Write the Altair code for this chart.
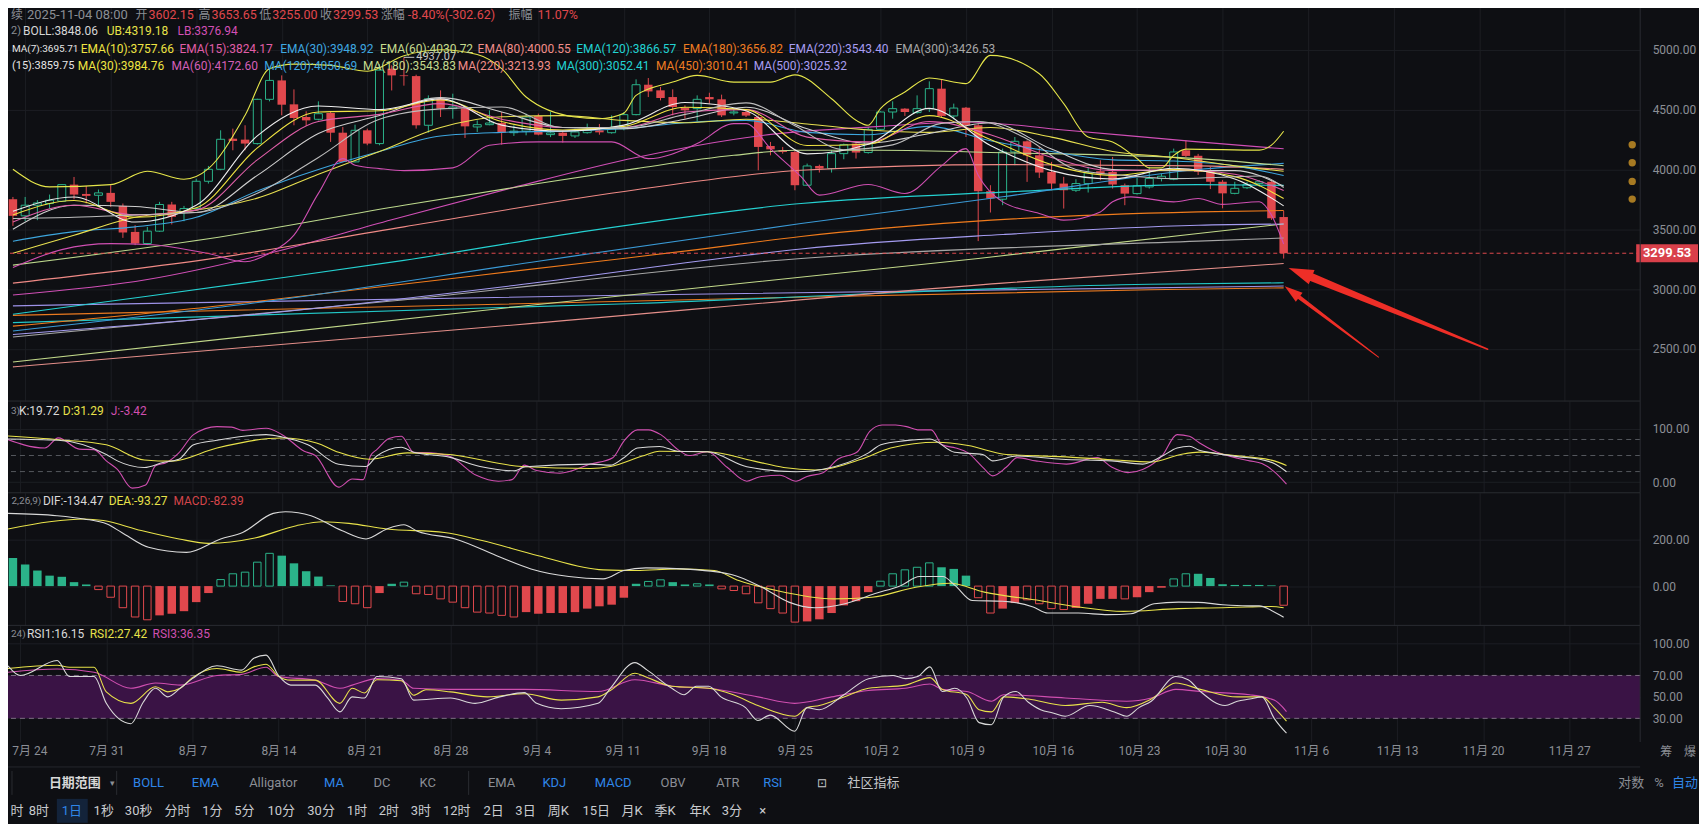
import altair as alt
import pandas as pd

# ------------------------------------------------------------------ data
# day 0 = 2025-07-24 ; last candle day 103 = 2025-11-04
days = list(range(-1, 104))
opens = [3751,3612,3701,3715,3734,3873,3795,3784,3804,3695,
         3478,3381,3484,3707,3645,3673,3901,4001,4257,4249,
         4216,4586,4744,4544,4438,4419,4472,4307,4063,4327,
         4216,4842,4786,4780,4369,4591,4508,4510,4355,4374,
         4388,4307,4320,4446,4291,4307,4280,4307,4327,4307,
         4341,4458,4708,4661,4605,4513,4508,4605,4586,4472,
         4480,4438,4196,4160,4146,3868,4029,4007,4132,4216,
         4141,4335,4480,4508,4475,4508,4675,4447,4516,4369,
         3818,3751,4146,4235,4118,3979,3882,3826,3882,3985,
         3979,3868,3798,3854,3924,3918,4160,4114,3980,3897,
         3800,3847,3883,3897,3602.15]
highs = [3770,3770,3743,3790,3875,3937,3862,3832,3868,3715,
         3534,3520,3729,3729,3695,3923,4029,4327,4341,4369,
         4591,4842,4786,4669,4486,4569,4480,4355,4374,4341,
         4880,4870,4937.07,4792,4619,4661,4633,4515,4410,4494,
         4480,4369,4466,4466,4480,4327,4341,4383,4380,4452,
         4480,4753,4764,4689,4669,4536,4619,4641,4625,4508,
         4494,4452,4230,4188,4160,4049,4040,4160,4216,4235,
         4355,4486,4569,4512,4619,4736,4753,4550,4522,4383,
         3868,4174,4271,4243,4188,4063,3938,3918,4021,4077,
         4104,3882,3929,4021,3965,4174,4243,4130,4022,3911,
         3897,3897,3911,3911,3653.65]
lows = [3528,3567,3576,3673,3730,3751,3715,3687,3687,3428,
        3367,3367,3478,3540,3567,3667,3882,3993,4160,4160,
        4207,4569,4452,4369,4363,4410,4230,4060,4060,4202,
        4202,4660,4700,4341,4307,4438,4424,4263,4313,4369,
        4207,4280,4285,4285,4270,4224,4263,4299,4290,4299,
        4327,4452,4605,4577,4452,4424,4402,4550,4438,4452,
        4438,3993,4118,4132,3826,3862,3974,3974,4085,4091,
        4132,4327,4424,4447,4466,4480,4438,4419,4271,3401,
        3640,3701,4035,3896,3929,3826,3673,3812,3807,3910,
        3840,3701,3790,3840,3900,3910,4104,3953,3836,3675,
        3792,3836,3855,3578,3255.00]
closes = [3612,3701,3720,3743,3873,3790,3779,3804,3729,3473,
          3381,3484,3707,3604,3673,3901,4001,4252,4238,4216,
          4586,4744,4541,4430,4410,4466,4307,4063,4327,4216,
          4830,4786,4780,4369,4591,4508,4522,4360,4374,4388,
          4307,4320,4438,4291,4305,4280,4313,4327,4310,4341,
          4458,4708,4652,4597,4522,4494,4586,4586,4452,4480,
          4450,4188,4168,4146,3868,4029,4007,4132,4207,4141,
          4335,4480,4508,4480,4508,4675,4447,4513,4369,3818,
          3757,4146,4235,4118,3974,3882,3826,3882,3971,3965,
          3874,3798,3862,3924,3943,4146,4113,3980,3897,3800,
          3842,3875,3897,3592,3299.53]

# overlay lines (day, value)
boll_ub = [(-1,4001),(2,3854),(7,3873),(10,3985),(13,3918),(15,4007),(18,4452),(20,4842),(22,4880),(25,4870),
           (28,4820),(31,4950),(34,5000),(37,4960),(39,4842),(41,4605),(45,4438),(47,4424),(49,4470),(50,4619),
           (53,4730),(55,4786),(58,4730),(61,4730),(63,4790),(66,4591),(68,4411),(69,4369),(70,4508),(72,4647),
           (74,4764),(77,4717),(79,4953),(83,4800),(85,4550),(87,4271),(89,4230),(91,4091),(92,4013),(93,4013),
           (94,4118),(95,4170),(101,4161),(102,4203),(103,4319.18)]
boll_lb = [(-1,3180),(3,3330),(7,3380),(10,3373),(15,3297),(18,3228),(20,3300),(22,3451),(24,3800),(26,4090),
           (27,4035),(29,4007),(31,3990),(35,4013),(38,4202),(42,4230),(48,4230),(51,4090),(55,4216),(58,4383),
           (59,4383),(61,4174),(63.5,3940),(65,3785),(69,3874),(72,3799),(75,4030),(77,4174),(78,3952),(80,3729),
           (83,3632),(85,3576),(88,3645),(89,3729),(90.5,3771),(94,3729),(96,3757),(98,3708),(101,3730),(102,3619),
           (103,3376.94)]
boll_mid = [(-1,3590),(4,3600),(9,3620),(14,3640),(19,3800),(24,4100),(29,4420),(34,4506),(39,4522),(44,4350),
            (49,4350),(54,4460),(59,4556),(63,4365),(67,4165),(71,4205),(75,4385),(78,4400),(82,4255),(86,4000),
            (90,3950),(94,3923),(98,3935),(101,3945),(103,3848.06)]
ema7 = [(-1,3650),(4,3770),(9,3560),(14,3700),(19,4280),(24,4530),(29,4500),(34,4590),(39,4370),(44,4320),(49,4370),
        (54,4560),(59,4490),(64,4130),(69,4210),(74,4510),(79,4200),(84,3990),(89,3920),(94,4010),(99,3920),(103,3695.71)]
ema10 = [(-1,3620),(4,3740),(9,3600),(14,3680),(19,4180),(24,4480),(29,4490),(34,4580),(39,4400),(44,4330),(49,4360),
         (54,4520),(59,4500),(64,4200),(69,4210),(74,4450),(79,4250),(84,4040),(89,3950),(94,4000),(99,3940),(103,3757.66)]
ema15 = [(-1,3560),(4,3700),(9,3620),(14,3660),(19,4080),(24,4400),(29,4460),(34,4550),(39,4420),(44,4350),(49,4350),
         (54,4480),(59,4500),(64,4270),(69,4230),(74,4400),(79,4290),(84,4100),(89,3990),(94,4000),(99,3960),(103,3824.17)]
ma15 = [(-1,3500),(4,3700),(9,3690),(14,3640),(19,3950),(24,4300),(29,4450),(34,4600),(39,4480),(44,4350),(49,4340),
        (54,4420),(59,4520),(64,4340),(69,4220),(74,4300),(79,4390),(84,4170),(89,4000),(94,3990),(99,3990),(103,3859.75)]
ma30 = [(-1,3300),(4,3450),(9,3600),(14,3660),(19,3760),(24,3960),(29,4150),(34,4350),(39,4440),(44,4450),(49,4410),
        (54,4390),(59,4420),(64,4380),(69,4330),(74,4310),(79,4350),(84,4270),(89,4150),(94,4100),(99,4030),(103,3984.76)]
ema30 = [(-1,3400),(4,3480),(9,3520),(14,3600),(19,3820),(24,4000),(29,4150),(34,4280),(39,4310),(44,4320),(49,4340),
         (54,4390),(59,4410),(64,4310),(69,4290),(74,4360),(79,4240),(84,4150),(89,4080),(94,4070),(99,4030),(103,3948.92)]
ema60 = [(-1,3200),(15,3420),(31,3701),(42,3882),(50,4007),(58,4118),(63,4160),(70,4160),(80,4140),(96,4090),(103,4030.72)]
ema80 = [(-1,3050),(15,3250),(31,3520),(50,3830),(63.5,3993),(80,4040),(96,4030),(103,4000.55)]
ma60 = [(-1,2950),(10,3080),(20,3300),(30,3580),(40,3850),(50,4100),(60,4280),(70,4360),(77,4397),(85,4330),(96,4230),(103,4172.60)]
ma120 = [(-1,2650),(20,2900),(42,3233),(63.5,3548),(80,3771),(96,4000),(103,4050.69)]
ema120 = [(-1,2790),(10,2940),(20,3080),(31,3240),(45,3470),(63.5,3715),(80,3810),(96,3873),(103,3866.57)]
ema180 = [(-1,2690),(15,2850),(30,3030),(47,3233),(55,3330),(63.5,3440),(77,3562),(96,3645),(103,3656.82)]
ema220 = [(-1,2620),(20,2800),(40,3030),(58,3270),(63.5,3335),(80,3456),(96,3534),(103,3543.40)]
ema300 = [(-1,2600),(30,2900),(63.5,3256),(96,3401),(103,3426.53)]
ma180 = [(-1,2390),(40,2850),(78,3256),(96,3465),(103,3543.83)]
ma220 = [(-1,2350),(40,2700),(80,3050),(103,3213.93)]
ma300 = [(-1,2720),(50,2880),(92,3040),(103,3052.41)]
ma450 = [(-1,2780),(50,2900),(92,2994),(103,3010.41)]
ma500 = [(-1,2860),(50,2950),(92,3010),(103,3025.32)]

kdj_k = [(-1.4,81),(3.1,78.5),(7,52),(7.9,40),(10.1,27.6),(11.6,36.8),(12.9,43),(14.1,70),(16,78.5),(20,89),(21.3,84.6),
         (23.4,70),(25.9,33.7),(28.1,29.4),(29,49),(31,65.6),(32,56),(34.9,47),(37.4,29.4),(40.2,21.5),(41.1,29),(46.4,34),
         (48,32),(49.1,46),(50.2,64),(52,67),(53.5,58),(55.9,57),(59.1,29),(63.1,19.6),(65.3,24.5),(69,55),(70,70),(72,77.8),
         (74,81),(76,56),(78.3,52),(79.1,40),(81.1,49),(84.7,43),(88.8,40),(91.3,34),(92.9,49),(94.1,64),(95.1,67.4),(95.9,60),
         (97,55),(99,48),(101,42),(102,35),(103,19.72)]
kdj_d = [(-1.4,87),(3.1,79.6),(7,70),(10.1,41.7),(12.3,39.5),(16,64),(21.3,82.7),(24.1,73.5),(25.9,56),(28.4,43),(31.5,55),
         (34.9,52),(35.8,49),(40.8,29.4),(46.4,25.7),(48,29.4),(50.6,49),(52,58),(55.9,57),(59.7,39.5),(62.1,27.6),(64.7,23),
         (68.4,43),(70.8,64),(74.6,74.8),(77.1,68.6),(80.2,52),(84.6,48),(88.8,42),(92,38),(94.4,52),(95.9,56.4),(98,52),
         (100,47),(102,40),(103,31.29)]
kdj_j = [(-1.4,83),(2,64),(3.1,83),(4.8,62),(6,61),(7,40),(7.9,24),(9.1,-11),(10.2,-5),(11,31),(11.9,37),(12.9,55),(14.1,89),
         (16,104),(17.2,103),(18.1,97),(20,101),(21.3,89),(23.1,58),(24,50),(25.9,-9),(27,6),(27.9,5),(28.5,50),(29,61),(30,82),
         (31,86),(32,56),(33.4,55),(34.9,49),(37.1,13),(38.9,2),(40,5),(41,32),(42,22),(43.9,17),(46.4,34),(48.2,46),(49.1,77),
         (50.2,98),(51.1,98),(52.1,89),(53.5,61),(54.4,50),(55.9,57),(57.5,28),(59.1,2),(60.1,10),(61.8,13),(63.1,2),(64,11),
         (65.3,18),(66.5,43),(68.1,57),(69.1,95),(70.1,107),(71.2,107),(72.1,104),(73,98),(74.1,98),(75,70),(76.1,64),(77.1,55),
         (78.3,28),(79.1,12),(80.2,28),(81.1,46),(82.6,40),(85.1,34),(87.6,46),(88.8,28),(90.1,18),(91.3,24),(92.9,50),(94.1,89),
         (95.1,86),(95.9,74),(97,60),(99,45),(100,40),(101,35),(102,20),(103,-3.42)]

macd_hist = [121,93,67,45,40,17,7,-15,-48,-93,
             -133,-145,-126,-119,-108,-69,-30,28,53,60,
             103,141,131,98,64,41,3,-66,-76,-93,
             -30,10,17,-33,-36,-55,-69,-93,-112,-116,
             -126,-133,-112,-119,-116,-116,-112,-97,-87,-80,
             -50,10,20,27,17,7,10,7,-12,-19,
             -33,-72,-97,-116,-155,-152,-143,-116,-83,-65,
             -26,21,53,70,81,100,81,74,45,-50,
             -116,-97,-73,-59,-76,-97,-101,-94,-76,-55,
             -55,-55,-48,-26,-7,31,53,53,35,8,
             5,5,5,3,-82.39]
macd_style = "fffffffhhh" "hhfffffhhh" "hhfffffhhh" "ffhhhhhhhh" "hhffffffff" "ffhhffhfhh" \
             "hhhhhfffff" "fhhhhhfffh" "hffhhhhfff" "fhfffhhfff" "ffffh"
macd_dif = [(-1.4,313),(2.6,303),(4.8,289),(6.7,267),(7.9,231),(10.1,167),(13.2,145),(16,203),(17.8,231),(20.3,313),
            (21.3,320),(23.4,303),(25.9,239),(27.9,203),(29.6,246),(31,264),(32.1,236),(35.2,203),(38.9,124),(41.4,74),
            (44.5,41),(47.3,31),(49,67),(50.8,78.5),(53.8,74),(57.8,50),(60.3,-5),(62.5,-69),(64.6,-93),(67.1,-76),
            (69.5,-33),(71.7,3),(73.2,41),(75.1,41),(76.1,3),(77.5,-62),(80,-65),(82.5,-90),(83.7,-116),(86.2,-116),
            (88.6,-123),(90.5,-119),(92.4,-76),(94.4,-69),(96,-70),(98,-80),(100,-85),(101,-85),(102,-105),(103,-134.47)]
macd_dea = [(-1.4,246),(2,277),(4.8,289),(6.4,282),(9.5,239),(12.6,203),(15,184),(18.8,207),(22.2,260),(24.4,277),
            (26.5,270),(29.6,246),(34.3,231),(37.4,196),(42,131),(47.3,70),(50,67),(53.3,74),(56.4,67),(58.4,24),
            (61.5,-19),(66.2,-55),(69.3,-48),(72.9,-5),(75.7,12),(78.5,-26),(83.1,-63),(86.2,-90),(89.9,-109),(94.4,-97),
            (96,-95),(98,-93),(100,-90),(102,-88),(103,-93.27)]

rsi1 = [(-1,79),(0,70),(3,84),(4,69),(6,69),(7,44),(9,25),(10,45),(11,58),(12,50),(13,58),(14,67),(16,79),(18,75),(19,86),
        (20,89),(21,70),(22,61),(24,61),(25,49),(26,36),(27,50),(28,49),(29,69),(31,67),(32,47),(35,49),(37,44),(39,50),
        (41,54),(42,44),(44,39),(47,44),(48,58),(50,82),(51,75),(53,58),(54,52),(55,60),(56,60),(57,50),(59,40),(60,28),
        (61,33),(63,18),(64,40),(65,38),(67,52),(69,67),(71,70),(72,67),(73,69),(74,78),(75,55),(76,58),(77,49),(78,26),
        (79,24),(80,50),(81,55),(82,45),(83,38),(84,35),(85,32),(87,42),(89,36),(90,32),(91,40),(92,46),(94,69),(95,66),
        (96,55),(98,42),(99,46),(100,48),(101,50),(102,30),(103,16.15)]
rsi2 = [(-1,76.5),(3,79.5),(4,77.7),(6,77.7),(7,54.7),(9,44),(11,59.4),(12,54.7),(13,58),(14,68),(16,76.5),(18,73),(19,78),
        (20,80.5),(21,69.3),(22,65.6),(24,65.6),(26,44),(27,58),(28,53.7),(29,66),(31,65),(32,51.6),(33,56.7),(35,54.7),
        (38,50),(41,53),(44,47),(47,50),(48,56),(50,72),(51,68),(53,60),(56,58),(58,52),(60,42),(63,32),(64,40),(65,42),
        (67,50),(69,58),(72,61),(74,68),(75,57),(77,52),(78,38),(79,36),(80,50),(82,48),(85,42),(88,45),(90,40),(92,48),
        (94,63),(96,57),(99,50),(101,50),(102,40),(103,27.42)]
rsi3 = [(-1,73),(3,76),(6,73),(9,58),(11,63),(13,61),(16,70),(18,71),(20,77.7),(21,69),(24,65.6),(26,58),(27,61),(29,67),
        (31,65.6),(32,58),(35,57),(41,57),(47,55),(50,66),(53,60),(56,58),(60,50),(63,44),(66,50),(69,56),(72,58),(74,62),
        (75,57),(77,55),(79,46),(80,52),(85,49),(90,46),(92,49),(94,57),(96,55),(100,52),(102,47),(103,36.35)]

week_days = list(range(0, 127, 7))
week_labels = ["7月 24", "7月 31", "8月 7", "8月 14", "8月 21", "8月 28", "9月 4", "9月 11", "9月 18", "9月 25",
               "10月 2", "10月 9", "10月 16", "10月 23", "10月 30", "11月 6", "11月 13", "11月 20", "11月 27"]
price_ticks = [2500, 3000, 3500, 4000, 4500, 5000]
kdj_ticks = [0, 100]
macd_ticks = [0, 200]
rsi_ticks = [30, 50, 70, 100]
last_price = 3299.53
max_high_day, max_high = 31, 4937.07
side_dots = [4206, 4056, 3900, 3752]

# ------------------------------------------------------------------ style
BG = "#0e0f13"
GRID = "#1c1e23"
SEP = "#2a2c31"
TXT = "#8b8e95"
RED = "#e0484d"
GREEN = "#2bb38a"
WHITE = "#d9d9d9"
YEL = "#e8e24a"
MAG = "#d24fb5"
FONT = "Roboto, 'Noto Sans CJK SC', sans-serif"
W = 1642
XDOM = [-1.403, 131.77]
ONE = pd.DataFrame({"a": [0]})

label_expr = "[" + ",".join("'%s'" % s for s in week_labels) + "][indexof([" + \
             ",".join(str(v) for v in week_days) + "], datum.value)]"


def xax(labels=False):
    return alt.Axis(values=week_days, grid=True, gridColor=GRID, gridWidth=1, labels=labels, ticks=False,
                    domain=False, title=None, labelExpr=label_expr, labelColor=TXT, labelFont=FONT,
                    labelFontSize=12, labelPadding=4,
                    labelAlign={"expr": "datum.value == 0 ? 'left' : 'center'"},
                    labelOffset={"expr": "datum.value == 0 ? -8.5 : 0"})


def X(field, labels=False):
    return alt.X(field + ":Q", scale=alt.Scale(domain=XDOM, nice=False, zero=False), axis=xax(labels))


def make_y(domain, ticks):
    sc = alt.Scale(domain=domain, nice=False, zero=False)
    ax = alt.Axis(values=ticks, format=".2f", orient="right", grid=True, gridColor=GRID, tickSize=0,
                  domain=False, labelPadding=12, labelColor=TXT, labelFont=FONT, labelFontSize=12, title=None)

    def Y(field):
        return alt.Y(field + ":Q", scale=sc, axis=ax)

    def YD(v):
        return alt.YDatum(v, scale=sc, axis=ax)
    return Y, YD


def T(text, x, y, color, size=12, weight="normal", align="left"):
    return alt.Chart(ONE).mark_text(text=text, align=align, baseline="middle", font=FONT, fontSize=size,
                                    fontWeight=weight, color=color).encode(x=alt.value(x), y=alt.value(y))


def hline(y, color=SEP):
    return alt.Chart(ONE).mark_rule(color=color, strokeWidth=1).encode(y=alt.value(y))


def vline(x, y1, y2, color=SEP):
    return alt.Chart(ONE).mark_rule(color=color, strokeWidth=1).encode(
        x=alt.value(x), y=alt.value(y1), y2=alt.value(y2))


def lines_df(spec):
    rows = []
    for name, (pts, col) in spec.items():
        for d, v in pts:
            rows.append({"name": name, "d": d, "v": v, "col": col})
    return pd.DataFrame(rows)


def line_layer(spec, Y, width=1.1):
    return alt.Chart(lines_df(spec)).mark_line(strokeWidth=width, interpolate="monotone").encode(
        x=X("d"), y=Y("v"), detail="name:N", color=alt.Color("col:N", scale=None, legend=None))


# ------------------------------------------------------------------ main panel
YM, YMD = make_y([2064.2, 5397.5], price_ticks)
candles = pd.DataFrame({"d": days, "o": opens, "h": highs, "l": lows, "c": closes})

main_lines = {
    "ma500": (ma500, "#9d92e8"), "ma450": (ma450, "#ea7a20"), "ma300": (ma300, "#22c7c7"),
    "ma220": (ma220, "#e58f8a"), "ma180": (ma180, "#c2d98a"), "ema300": (ema300, "#a6a6a6"),
    "ema220": (ema220, "#a49bf0"), "ema180": (ema180, "#f07b1c"), "ema120": (ema120, "#25d1d1"),
    "ma120": (ma120, "#3a9ad6"), "ma60": (ma60, "#d04fb6"), "ema80": (ema80, "#f08a86"),
    "ema60": (ema60, "#bcd88c"), "ema30": (ema30, "#3da6de"), "ma30": (ma30, "#e8e050"),
    "ma15": (ma15, "#cfcfcf"), "ema15": (ema15, "#e05ea8"), "ema10": (ema10, "#f0e442"),
    "ema7": (ema7, "#eeeeee"), "boll_mid": (boll_mid, "#bdbdbd"), "boll_ub": (boll_ub, "#e6e64a"),
    "boll_lb": (boll_lb, "#cf4fb2"),
}

wicks = alt.Chart(candles).mark_rule(strokeWidth=1).encode(
    x=X("d"), y=YM("l"), y2="h",
    color=alt.condition("datum.c >= datum.o", alt.value(GREEN), alt.value(RED)))
down = alt.Chart(candles).transform_filter("datum.c < datum.o").mark_bar(size=8.5, color=RED).encode(
    x=X("d"), y=YM("o"), y2="c")
up = alt.Chart(candles).transform_filter("datum.c >= datum.o").mark_bar(
    size=8, fill=BG, stroke=GREEN, strokeWidth=1).encode(x=X("d"), y=YM("o"), y2="c")

last_rule = alt.Chart(ONE).mark_rule(color=RED, strokeDash=[4, 3], strokeWidth=1).encode(y=YMD(last_price))
price_box = alt.Chart(ONE).mark_rect(color="#d9404a").encode(
    x=alt.value(1638), x2=alt.value(1700), y=YMD(last_price + 76), y2=alt.datum(last_price - 76))
price_txt = alt.Chart(ONE).mark_text(text="%.2f" % last_price, font=FONT, fontSize=13, fontWeight="bold",
                                     color="#ffffff", align="center", baseline="middle").encode(
    x=alt.value(1669), y=YMD(last_price))

mx = pd.DataFrame({"d": [max_high_day], "d2": [max_high_day + 0.85], "v": [max_high]})
max_rule = alt.Chart(mx).mark_rule(color="#c8c8c8").encode(x=X("d"), x2="d2", y=YM("v"))
max_txt = alt.Chart(mx).mark_text(text="%.2f" % max_high, align="left", baseline="middle", dx=2, font=FONT,
                                  fontSize=11, color="#c8c8c8").encode(x=X("d2"), y=YM("v"))

dots = alt.Chart(pd.DataFrame({"v": side_dots})).mark_circle(size=55, color="#a77a22", opacity=1).encode(
    x=alt.value(1634), y=YM("v"))

arrow_shaft = pd.DataFrame({"a": [1, 1, 2, 2], "d": [119.7, 105.2, 110.76, 104.26],
                            "v": [2497.5, 3103.3, 2430.8, 2932.5], "w": [1.5, 8, 1, 4]})
arrows = alt.Chart(arrow_shaft).mark_trail(color="#ee2e27").encode(
    x=X("d"), y=YM("v"), size=alt.Size("w:Q", scale=None, legend=None), detail="a:N")
head_shape = "M0,-1L0.62,1L-0.62,1Z"
head1 = alt.Chart(pd.DataFrame({"d": [104.35], "v": [3137.9]})).mark_point(
    shape=head_shape, size=620, angle=292, filled=True, color="#ee2e27", opacity=1).encode(x=X("d"), y=YM("v"))
head2 = alt.Chart(pd.DataFrame({"d": [103.68], "v": [2977.5]})).mark_point(
    shape=head_shape, size=330, angle=307, filled=True, color="#ee2e27", opacity=1).encode(x=X("d"), y=YM("v"))

L1 = 13.2
legend_main = [
    T("续", 8, L1, TXT, size=12), T("2025-11-04 08:00", 24, L1, TXT, size=13),
    T("开", 133, L1, TXT, size=12), T("3602.15", 146, L1, RED, size=12.5),
    T("高", 196, L1, TXT, size=12), T("3653.65", 209, L1, RED, size=12.5),
    T("低", 257, L1, TXT, size=12), T("3255.00", 270, L1, RED, size=12.5),
    T("收", 318, L1, TXT, size=12), T("3299.53", 331, L1, RED, size=12.5),
    T("涨幅", 379, L1, TXT, size=12), T("-8.40%(-302.62)", 406, L1, RED, size=12.5),
    T("振幅", 507, L1, TXT, size=12), T("11.07%", 536, L1, RED, size=12.5),
    T("2)", 8, 29.2, TXT, size=11), T("BOLL:3848.06", 20, 29.2, "#d6d6d6"), T("UB:4319.18", 104, 29.2, YEL),
    T("LB:3376.94", 175, 29.2, MAG),
    T("MA(7):3695.71", 9, 46.7, "#e6e6e6", size=10), T("EMA(10):3757.66", 78, 46.7, "#f0e442"),
    T("EMA(15):3824.17", 177, 46.7, "#e05ea8"), T("EMA(30):3948.92", 278, 46.7, "#3fa8e0"),
    T("EMA(60):4030.72", 378, 46.7, "#c5dc8f"), T("EMA(80):4000.55", 476, 46.7, "#f28e8a"),
    T("EMA(120):3866.57", 575, 46.7, "#22d3d3"), T("EMA(180):3656.82", 682, 46.7, "#f07d22"),
    T("EMA(220):3543.40", 788, 46.7, "#a89df2"), T("EMA(300):3426.53", 895, 46.7, "#a8a8a8"),
    T("(15):3859.75", 9, 64.2, "#e6e6e6", size=11), T("MA(30):3984.76", 75, 64.2, "#f0e442"),
    T("MA(60):4172.60", 169, 64.2, "#d45fb8"), T("MA(120):4050.69", 262, 64.2, "#3fa8e0"),
    T("MA(180):3543.83", 361, 64.2, "#c5dc8f"), T("MA(220):3213.93", 456, 64.2, "#f28e8a"),
    T("MA(300):3052.41", 555, 64.2, "#22d3d3"), T("MA(450):3010.41", 655, 64.2, "#f07d22"),
    T("MA(500):3025.32", 753, 64.2, "#a89df2"),
]

main = alt.layer(
    wicks, down, up, line_layer(main_lines, YM), last_rule, max_rule, max_txt, dots,
    arrows, head1, head2, price_box, price_txt, vline(W, 0, 400), *legend_main
).properties(width=W, height=400)

# ------------------------------------------------------------------ KDJ
YK, YKD = make_y([-19.6, 151.8], kdj_ticks)
kdj_dash = alt.Chart(pd.DataFrame({"v": [80, 50, 20]})).mark_rule(
    color="#55585e", strokeDash=[5, 4], strokeWidth=1).encode(y=YK("v"))
kdj = alt.layer(
    kdj_dash,
    line_layer({"j": (kdj_j, "#d04fb0"), "d": (kdj_d, YEL), "k": (kdj_k, WHITE)}, YK, 1.1),
    hline(0), vline(W, 0, 92),
    T("3)", 8, 10, TXT, size=10), T("K:19.72", 16, 10, WHITE), T("D:31.29", 60, 10, YEL),
    T("J:-3.42", 108, 10, "#d04fb0"),
).properties(width=W, height=92)

# ------------------------------------------------------------------ MACD
YC, YCD = make_y([-169.1, 401.7], macd_ticks)
hist = pd.DataFrame({"d": days, "m": macd_hist, "s": list(macd_style)})
hf_pos = alt.Chart(hist).transform_filter("datum.s == 'f' && datum.m >= 0").mark_bar(size=8.5, color=GREEN).encode(
    x=X("d"), y=YC("m"), y2=alt.datum(0))
hf_neg = alt.Chart(hist).transform_filter("datum.s == 'f' && datum.m < 0").mark_bar(size=8.5, color=RED).encode(
    x=X("d"), y=YC("m"), y2=alt.datum(0))
hh_pos = alt.Chart(hist).transform_filter("datum.s == 'h' && datum.m >= 0").mark_bar(
    size=7.5, fill=BG, stroke=GREEN, strokeWidth=1).encode(x=X("d"), y=YC("m"), y2=alt.datum(0))
hh_neg = alt.Chart(hist).transform_filter("datum.s == 'h' && datum.m < 0").mark_bar(
    size=7.5, fill=BG, stroke=RED, strokeWidth=1).encode(x=X("d"), y=YC("m"), y2=alt.datum(0))
macd = alt.layer(
    hf_pos, hf_neg, hh_pos, hh_neg,
    line_layer({"dea": (macd_dea, YEL), "dif": (macd_dif, WHITE)}, YC, 1.1),
    hline(0), vline(W, 0, 133),
    T("2,26,9)", 8.5, 8, TXT, size=10), T("DIF:-134.47", 40, 8, WHITE), T("DEA:-93.27", 106, 8, YEL),
    T("MACD:-82.39", 171, 8, "#d4454a"),
).properties(width=W, height=133)

# ------------------------------------------------------------------ RSI
YR, YRD = make_y([7.9, 116.7], rsi_ticks)
band = alt.Chart(ONE).mark_rect(color="#3a1345").encode(
    x=alt.value(0), x2=alt.value(W), y=YRD(70), y2=alt.datum(30))
rsi_dash = alt.Chart(pd.DataFrame({"v": [70, 30]})).mark_rule(
    color="#7d6d84", strokeDash=[5, 4], strokeWidth=1).encode(y=YR("v"))
rsi_x = alt.Chart(pd.DataFrame({"d": week_days})).mark_rule(opacity=0).encode(x=X("d", labels=True))
rsi = alt.layer(
    band, rsi_dash, rsi_x,
    line_layer({"r3": (rsi3, "#d04fb0"), "r2": (rsi2, YEL), "r1": (rsi1, WHITE)}, YR, 1.1),
    hline(0), vline(W, 0, 117),
    T("24)", 8, 9, TXT, size=10), T("RSI1:16.15", 24, 9, WHITE), T("RSI2:27.42", 87, 9, YEL),
    T("RSI3:36.35", 150, 9, "#d04fb0"),
).properties(width=W, height=117)

# ------------------------------------------------------------------ toolbar
BLUE = "#2f86e8"
LG = "#c9cbcf"
row1 = [("日期范围", 72, "#d8d8d8", "bold"), ("BOLL", 146, BLUE, "normal"), ("EMA", 203, BLUE, "normal"),
        ("Alligator", 271, TXT, "normal"), ("MA", 332, BLUE, "normal"), ("DC", 380, TXT, "normal"),
        ("KC", 426, TXT, "normal"), ("EMA", 500, TXT, "normal"), ("KDJ", 553, BLUE, "normal"),
        ("MACD", 612, BLUE, "normal"), ("OBV", 672, TXT, "normal"), ("ATR", 727, TXT, "normal"),
        ("RSI", 772, BLUE, "normal"), ("社区指标", 873, "#c4c6ca", "normal"), ("对数", 1633, TXT, "normal"),
        ("%", 1661, TXT, "normal"), ("自动", 1687, BLUE, "normal")]
row2 = [("时", 14), ("8时", 36), ("1日", 69), ("1秒", 101), ("30秒", 136), ("分时", 175), ("1分", 210), ("5分", 242),
        ("10分", 279), ("30分", 319), ("1时", 355), ("2时", 387), ("3时", 419), ("12时", 455), ("2日", 492),
        ("3日", 524), ("周K", 557), ("15日", 595), ("月K", 631), ("季K", 664), ("年K", 699), ("3分", 731),
        ("×", 762)]
R2 = 69
tb_layers = [hline(25, "#25272c"), vline(9, 29, 53), vline(114, 29, 53), vline(467, 29, 53),
             alt.Chart(ONE).mark_rect(color="#13233a").encode(x=alt.value(54), x2=alt.value(85),
                                                               y=alt.value(R2 - 12), y2=alt.value(R2 + 12)),
             T("▾", 107, 41, TXT, size=9), T("⊡", 816, 41, "#c4c6ca", size=12),
             T("筹", 1668, 10, TXT, align="center"), T("爆", 1692, 10, TXT, align="center")]
for t, x, c, w in row1:
    tb_layers.append(T(t, x, 41, c, size=13, weight=w, align="center"))
for t, x in row2:
    tb_layers.append(T(t, x, R2, BLUE if t == "1日" else LG, size=13, align="center"))
toolbar = alt.layer(*tb_layers).properties(width=W, height=75)

chart = alt.vconcat(main, kdj, macd, rsi, toolbar, spacing=0, bounds="flush").properties(
    background=BG, padding={"left": -8, "top": -8, "right": 0, "bottom": 0}
).configure_view(strokeWidth=0).configure_text(font=FONT)

chart.save("out.html", embed_options={"renderer": "svg", "actions": False})
